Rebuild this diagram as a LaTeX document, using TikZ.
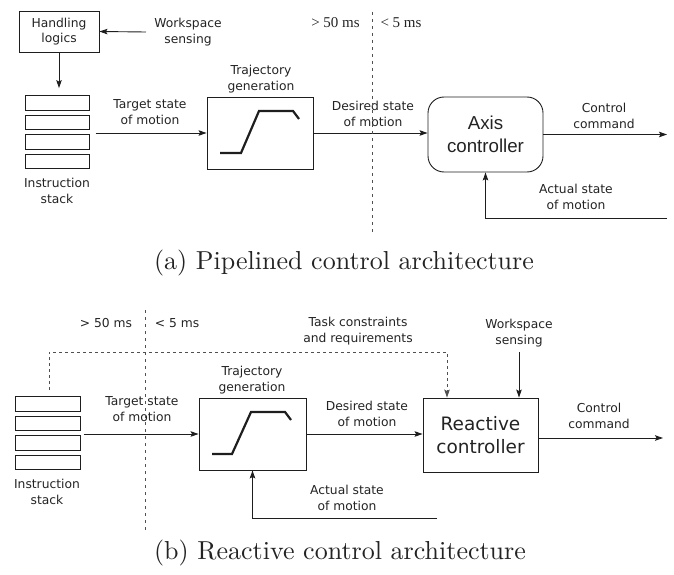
\documentclass[tikz,border=0pt]{standalone}
\usepackage{fontspec}
\usetikzlibrary{arrows.meta,fit}
\newfontfamily\dvs{DejaVu Sans}
\newfontfamily\lsans{Liberation Sans}
\newfontfamily\lserif{Liberation Serif}
\newfontfamily\lmten{lmroman10-regular.otf}
\newcommand\lblfont{\dvs\fontsize{12.3}{15.5}\selectfont}
\definecolor{lc}{RGB}{30,30,30}
\definecolor{tc}{RGB}{35,35,35}
\definecolor{dc}{RGB}{80,80,80}
\tikzset{
  lbl/.style={font=\lblfont, align=center, inner sep=0pt, text=tc},
  blk/.style={draw=lc, line width=0.9pt, inner sep=0pt},
  stk/.style={draw=lc, line width=0.9pt, inner sep=0pt, minimum height=14.5pt},
  arr/.style={draw=lc, line width=0.9pt, -{Stealth[length=8pt,width=5.5pt,inset=1.5pt]}},
  divider/.style={draw=dc, line width=1pt, dash pattern=on 3pt off 4pt},
  dashfb/.style={draw=dc, line width=0.9pt, dash pattern=on 3pt off 3pt, -{Stealth[length=8pt,width=5.5pt,inset=1.5pt]}},
  curve/.style={draw=lc, line width=2.2pt},
  capt/.style={font=\lmten\fontsize{26}{30}\selectfont, inner sep=0pt, text=tc},
  tms/.style={font=\lserif\fontsize{15}{17}\selectfont, inner sep=0pt, text=tc},
}
\begin{document}
\begin{tikzpicture}[x=1pt,y=-1pt]
\useasboundingbox (0,0) rectangle (674,575);
% ================= (a) =================
\node[blk, minimum width=80pt, minimum height=41pt, font=\lblfont, align=center, text=tc] (hl) at (59,31.5) {Handling\\logics};
\node[lbl] (ws) at (188,32) {Workspace\\sensing};
\coordinate (wsst) at (146,32);
\draw[arr] (wsst) -- (hl.east);
\node[stk, minimum width=64pt] (a1) at (57,103) {};
\node[stk, minimum width=64pt] (a2) at (57,122.5) {};
\node[stk, minimum width=64pt] (a3) at (57,142) {};
\node[stk, minimum width=64pt] (a4) at (57,161.5) {};
\node[fit=(a1)(a4), inner xsep=6pt, inner ysep=7pt] (astack) {};
\draw[arr] (hl.south) -- (hl.south |- astack.north);
\node[lbl] (ais) at (57,191) {Instruction\\stack};
\node[blk, minimum width=106pt, minimum height=72pt] (atraj) at (260,133) {};
\draw[curve] ([shift={(-40,20)}]atraj.center) -- ++(21,0) -- ++(18,-42) -- ++(34,0) -- ++(6,8);
\node[lbl] (atg) at (261,79) {Trajectory\\generation};
\draw[arr] (astack.east |- atraj.west) -- (atraj.west);
\node[lbl] (atl) at (150,112) {Target state\\of motion};
\node[blk, rounded corners=16pt, minimum width=115pt, minimum height=75pt, font=\lsans\fontsize{18.7}{23}\selectfont, align=center, text=tc] (axis) at (485.5,134.5) {Axis\\controller};
\draw[arr] (atraj.east) -- (atraj.east -| axis.west);
\node[lbl] (ads) at (373,114) {Desired state\\of motion};
\coordinate (acc) at (667,135);
\draw[arr] (axis.east) -- (axis.east -| acc);
\node[lbl] (accl) at (604,116) {Control\\command};
\coordinate (aas) at (667,218);
\draw[arr] (aas) -- (aas -| axis.south) -- (axis.south);
\node[lbl] (aasl) at (576,197) {Actual state\\of motion};
\coordinate (adt) at (372,12);
\coordinate (adb) at (372,232);
\draw[divider] (adt) -- (adb);
\node[tms] (at1) at (335.5,23) {>\hspace{3.5pt}50 ms};
\node[tms] (at2) at (401,23) {<\hspace{3.5pt}5 ms};
\node[capt] (capa) at (344,263) {(a) Pipelined control architecture};
% ================= (b) =================
\node[stk, minimum width=65pt] (b1) at (47.5,404) {};
\node[stk, minimum width=65pt] (b2) at (47.5,423.5) {};
\node[stk, minimum width=65pt] (b3) at (47.5,443) {};
\node[stk, minimum width=65pt] (b4) at (47.5,462.5) {};
\node[fit=(b1)(b4), inner xsep=3pt, inner ysep=7pt] (bstack) {};
\node[lbl] (bis) at (47,492) {Instruction\\stack};
\node[blk, minimum width=107pt, minimum height=72pt] (btraj) at (252.5,434) {};
\draw[curve] ([shift={(-40.5,20)}]btraj.center) -- ++(20,0) -- ++(19,-42) -- ++(34,0) -- ++(6,8);
\node[lbl] (btg) at (252,380) {Trajectory\\generation};
\draw[arr] (bstack.east |- btraj.west) -- (btraj.west);
\node[lbl] (btl) at (142,409) {Target state\\of motion};
\node[blk, minimum width=115pt, minimum height=74pt, font=\dvs\fontsize{18.5}{23}\selectfont, align=center, text=tc] (react) at (480.5,435) {Reactive\\controller};
\draw[arr] (btraj.east) -- (btraj.east -| react.west);
\node[lbl] (bds) at (367,414) {Desired state\\of motion};
\coordinate (bcc) at (663,438);
\draw[arr] (react.east |- bcc) -- (bcc);
\node[lbl] (bccl) at (599,416) {Control\\command};
\coordinate (bas) at (437,518);
\draw[arr] (bas) -- (bas -| btraj.south) -- (btraj.south);
\node[lbl] (basl) at (347,498) {Actual state\\of motion};
\node[lbl] (bws) at (519,333) {Workspace\\sensing};
\coordinate (bwst) at (519,352);
\draw[arr] (bwst) -- (bwst |- react.north);
\node[lbl] (btc) at (358,331) {Task constraints\\and requirements};
\coordinate (bfb) at (49,390);
\coordinate (bfc) at (447,352);
\draw[dashfb] (bfb) -- (bfb |- bfc) -- (bfc) -- (bfc |- react.north);
\coordinate (bdt) at (145,310);
\coordinate (bdb) at (145,530);
\draw[divider] (bdt) -- (bdb);
\node[lbl] (bt1) at (106,323) {> 50 ms};
\node[lbl] (bt2) at (177,323) {< 5 ms};
\node[capt] (capb) at (340,553) {(b) Reactive control architecture};
\end{tikzpicture}
\end{document}
